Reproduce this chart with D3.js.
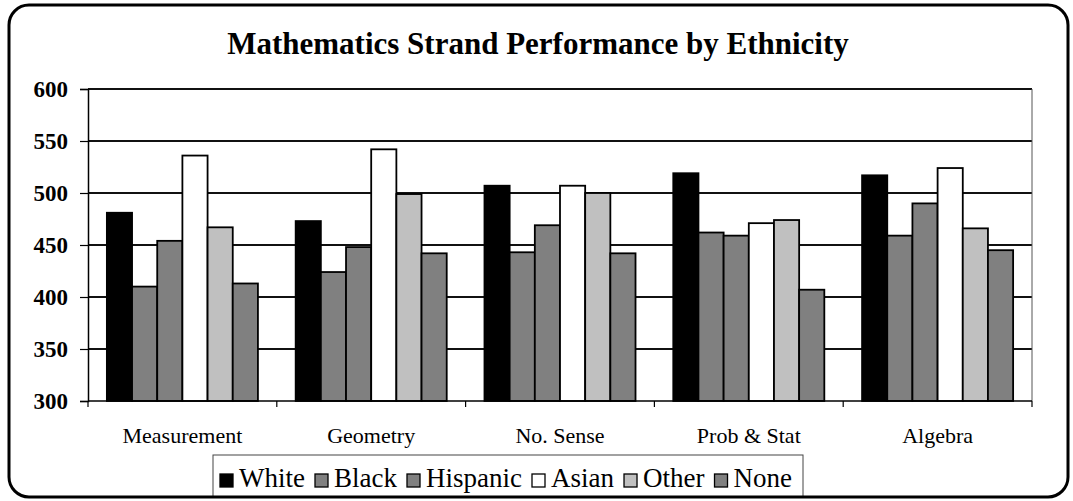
<!DOCTYPE html>
<html>
<head>
<meta charset="utf-8">
<script src="https://cdn.jsdelivr.net/npm/d3@7"></script>
<style>
  html, body { margin: 0; padding: 0; background: #fff; }
  svg { display: block; }
  text { font-family: "Liberation Serif", "Times New Roman", serif; fill: #000; }
</style>
</head>
<body>
<svg id="chart" width="1073" height="501"></svg>
<script>
const categories = ["Measurement", "Geometry", "No. Sense", "Prob & Stat", "Algebra"];
const seriesNames = ["White", "Black", "Hispanic", "Asian", "Other", "None"];
const seriesColors = ["#000000", "#808080", "#808080", "#FFFFFF", "#C0C0C0", "#808080"];
const White    = [481, 473, 507, 519, 517];
const Black    = [410, 424, 443, 462, 459];
const Hispanic = [454, 448, 469, 459, 490];
const Asian    = [536, 542, 507, 471, 524];
const Other    = [467, 499, 500, 474, 466];
const None     = [413, 442, 442, 407, 445];
const seriesValues = [White, Black, Hispanic, Asian, Other, None];
const yTicks = [300, 350, 400, 450, 500, 550, 600];
const titleText = "Mathematics Strand Performance by Ethnicity";

const svg = d3.select("#chart");
const plot = { left: 88, right: 1032, top: 89, bottom: 401 };

// outer frame background
svg.append("rect")
  .attr("x", 9).attr("y", 5).attr("width", 1059).attr("height", 492)
  .attr("rx", 20).attr("ry", 20)
  .attr("fill", "#fff").attr("stroke", "none");

// title
svg.append("text")
  .attr("x", 538).attr("y", 54)
  .attr("text-anchor", "middle")
  .style("font-size", "31px").style("font-weight", "bold")
  .text(titleText);

const x0 = d3.scaleBand().domain(categories).range([plot.left, plot.right]).paddingInner(0).paddingOuter(0);
const groupPad = 0.75 / 7.5; // Excel gap width 150%
const x1 = d3.scaleBand().domain(seriesNames)
  .range([x0.bandwidth() * groupPad, x0.bandwidth() * (1 - groupPad)]).padding(0);
const y = d3.scaleLinear().domain([300, 600]).range([plot.bottom, plot.top]);

// gridlines
svg.append("g").selectAll("line").data(yTicks.filter(t => t > 300)).join("line")
  .attr("x1", plot.left).attr("x2", plot.right)
  .attr("y1", d => y(d)).attr("y2", d => y(d))
  .attr("stroke", "#111").attr("stroke-width", 1.2).attr("shape-rendering", "crispEdges");

// right border of plot
svg.append("line")
  .attr("x1", plot.right).attr("x2", plot.right)
  .attr("y1", plot.top).attr("y2", plot.bottom)
  .attr("stroke", "#555").attr("stroke-width", 1);

// bars
const groups = svg.append("g").selectAll("g").data(categories).join("g")
  .attr("transform", c => `translate(${x0(c)},0)`);
groups.selectAll("rect")
  .data((c, ci) => seriesNames.map((s, si) => ({ s, si, v: seriesValues[si][ci] })))
  .join("rect")
  .attr("x", d => x1(d.s))
  .attr("width", x1.bandwidth())
  .attr("y", d => y(d.v))
  .attr("height", d => y(300) - y(d.v))
  .attr("fill", d => seriesColors[d.si])
  .attr("stroke", "#000").attr("stroke-width", 1.8);

// y axis
const yAxis = svg.append("g").attr("transform", `translate(${plot.left},0)`)
  .call(d3.axisLeft(y).tickValues(yTicks).tickSize(8).tickPadding(12).tickFormat(d3.format("d")));
yAxis.select(".domain").attr("stroke", "#000").attr("stroke-width", 1.5);
yAxis.selectAll(".tick line").attr("stroke", "#000").attr("stroke-width", 1.2);
yAxis.selectAll("text")
  .style("font-family", "'Liberation Serif', serif")
  .style("font-size", "23px").style("font-weight", "bold").attr("fill", "#000");

// x axis
const boundaries = categories.map(c => x0(c)).concat([plot.right]);
const xAxis = svg.append("g").attr("transform", `translate(0,${plot.bottom})`);
xAxis.append("line").attr("x1", plot.left).attr("x2", plot.right)
  .attr("stroke", "#000").attr("stroke-width", 1.5);
xAxis.selectAll("line.tk").data(boundaries).join("line").attr("class", "tk")
  .attr("x1", d => d).attr("x2", d => d).attr("y1", 0).attr("y2", 6)
  .attr("stroke", "#000").attr("stroke-width", 1.2);
xAxis.selectAll("text").data(categories).join("text")
  .attr("x", c => x0(c) + x0.bandwidth() / 2).attr("y", 42)
  .attr("text-anchor", "middle")
  .style("font-size", "22px")
  .text(c => c);

// legend
const legend = svg.append("g");
const lgBox = { x: 213, y: 455, w: 590, h: 42 };
legend.append("rect")
  .attr("x", lgBox.x).attr("y", lgBox.y).attr("width", lgBox.w).attr("height", lgBox.h)
  .attr("fill", "#fff").attr("stroke", "#444").attr("stroke-width", 1);
const items = legend.selectAll("g").data(seriesNames).join("g");
items.append("rect")
  .attr("y", -13)
  .attr("width", 13).attr("height", 13)
  .attr("fill", (d, i) => seriesColors[i]).attr("stroke", "#000").attr("stroke-width", 1.3);
items.append("text")
  .attr("x", 19).attr("y", 0)
  .style("font-size", "27px")
  .text(d => d);
let widths = [];
items.each(function() { widths.push(19 + d3.select(this).select("text").node().getComputedTextLength()); });
const endX = 792, startX = 220;
const gap = (endX - startX - d3.sum(widths)) / (widths.length - 1);
let cx = startX;
items.attr("transform", (d, i) => {
  const t = `translate(${cx},${487})`;
  cx += widths[i] + gap;
  return t;
});

// frame on top
svg.append("rect")
  .attr("x", 9).attr("y", 5).attr("width", 1059).attr("height", 492)
  .attr("rx", 20).attr("ry", 20)
  .attr("fill", "none").attr("stroke", "#000").attr("stroke-width", 3);
</script>
</body>
</html>
